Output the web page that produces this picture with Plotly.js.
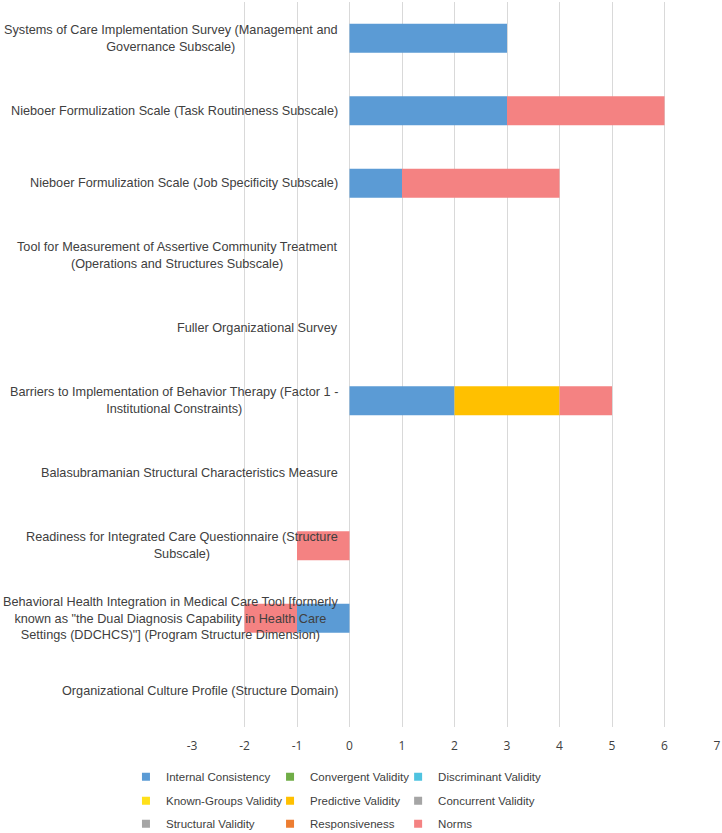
<!DOCTYPE html>
<html>
<head>
<meta charset="utf-8">
<script src="https://cdn.plot.ly/plotly-3.0.1.min.js"></script>
<style>html,body{margin:0;padding:0;background:#fff;}#chart{width:722px;height:833px;}</style>
</head>
<body>
<div id="chart"></div>
<script>
// Categories, top to bottom
const categories = [
  "Systems of Care Implementation Survey (Management and<br>Governance Subscale)",
  "Nieboer Formulization Scale (Task Routineness Subscale)",
  "Nieboer Formulization Scale (Job Specificity Subscale)",
  "Tool for Measurement of Assertive Community Treatment<br>(Operations and Structures Subscale)",
  "Fuller Organizational Survey",
  "Barriers to Implementation of Behavior Therapy (Factor 1 -<br>Institutional Constraints)",
  "Balasubramanian Structural Characteristics Measure",
  "Readiness for Integrated Care Questionnaire (Structure<br>Subscale)",
  "Behavioral Health Integration in Medical Care Tool [formerly<br>known as \"the Dual Diagnosis Capability in Health Care<br>Settings (DDCHCS)\"] (Program Structure Dimension)",
  "Organizational Culture Profile (Structure Domain)"
];

// Series values (one per category)
const internalConsistency = [3, 3, 1, 0, 0, 2, 0, 0, -1, 0];
const convergentValidity  = [0, 0, 0, 0, 0, 0, 0, 0, 0, 0];
const discriminantValidity= [0, 0, 0, 0, 0, 0, 0, 0, 0, 0];
const knownGroupsValidity = [0, 0, 0, 0, 0, 0, 0, 0, 0, 0];
const predictiveValidity  = [0, 0, 0, 0, 0, 2, 0, 0, 0, 0];
const concurrentValidity  = [0, 0, 0, 0, 0, 0, 0, 0, 0, 0];
const structuralValidity  = [0, 0, 0, 0, 0, 0, 0, 0, 0, 0];
const responsiveness      = [0, 0, 0, 0, 0, 0, 0, 0, 0, 0];
const norms               = [0, 3, 3, 0, 0, 1, 0, -1, -1, 0];

const seriesNames = ["Internal Consistency", "Convergent Validity", "Discriminant Validity",
  "Known-Groups Validity", "Predictive Validity", "Concurrent Validity",
  "Structural Validity", "Responsiveness", "Norms"];
const seriesValues = [internalConsistency, convergentValidity, discriminantValidity,
  knownGroupsValidity, predictiveValidity, concurrentValidity,
  structuralValidity, responsiveness, norms];
const seriesColors = ["#5B9BD5", "#70AD47", "#4FC3E0", "#FFE01A", "#FFC000",
  "#A5A5A5", "#A5A5A5", "#ED7D31", "#F48282"];

const xTicks = [-3, -2, -1, 0, 1, 2, 3, 4, 5, 6, 7];

const legendKey = i => (i === 0 ? "legend" : "legend" + (i + 1));

// Bars (legend entries are given by small-square key traces below)
const barTraces = seriesNames.map((name, i) => ({
  type: "bar",
  orientation: "h",
  name: name,
  y: categories,
  x: seriesValues[i],
  marker: {color: seriesColors[i], line: {width: 0}},
  legendgroup: name,
  showlegend: false,
  hoverinfo: "x+name"
}));
const keyTraces = seriesNames.map((name, i) => ({
  type: "scatter",
  mode: "markers",
  name: name,
  x: [null], y: [null],
  marker: {color: seriesColors[i], symbol: "square", size: 8, line: {width: 0}},
  legendgroup: name,
  legend: legendKey(i),
  showlegend: true,
  hoverinfo: "skip"
}));

const labelFont = {family: "Liberation Sans, Arial, sans-serif", size: 12.7, color: "#404040"};
const legendFont = {family: "Liberation Sans, Arial, sans-serif", size: 11.5, color: "#404040"};

const annotations = categories.map(c => ({
  xref: "x", yref: "y", x: 0, y: c,
  xanchor: "right", yanchor: "middle", align: "center",
  xshift: -10,
  text: c, showarrow: false, font: labelFont
}));

const layout = {
  width: 722, height: 833,
  margin: {l: 192, r: 5, t: 2, b: 106, autoexpand: false},
  paper_bgcolor: "#fff", plot_bgcolor: "#fff",
  barmode: "relative",
  bargap: 0.6,
  showlegend: true,
  xaxis: {
    range: [-3, 7], tickvals: xTicks, ticktext: xTicks.map(String),
    showgrid: true, gridcolor: "#D9D9D9", gridwidth: 1,
    zeroline: false, showline: false, ticks: "",
    ticklabelstandoff: 10,
    tickfont: {family: "Open Sans, sans-serif", size: 12, color: "#404040"},
    fixedrange: true
  },
  yaxis: {
    type: "category", categoryorder: "array", categoryarray: categories,
    autorange: "reversed", showticklabels: false, showgrid: false,
    zeroline: false, showline: false, ticks: "", fixedrange: true
  },
  annotations: annotations
};

// Legend grid: 3 columns x 3 rows, one legend per entry
const colLeftPx = [126, 270, 398];
const rowMidPx = [777, 801, 824];
const plotLeft = 192, plotW = 524.7, plotBottom = 727.25, plotH = 725;
seriesNames.forEach((n, i) => {
  const col = i % 3, row = Math.floor(i / 3);
  layout[legendKey(i)] = {
    orientation: "h", xref: "paper", yref: "paper",
    xanchor: "left", yanchor: "middle",
    x: (colLeftPx[col] - plotLeft) / plotW,
    y: (plotBottom - rowMidPx[row]) / plotH,
    itemwidth: 30, font: legendFont,
    bgcolor: "rgba(0,0,0,0)", borderwidth: 0
  };
});

Plotly.newPlot("chart", barTraces.concat(keyTraces), layout, {displayModeBar: false, staticPlot: true});
</script>
</body>
</html>
